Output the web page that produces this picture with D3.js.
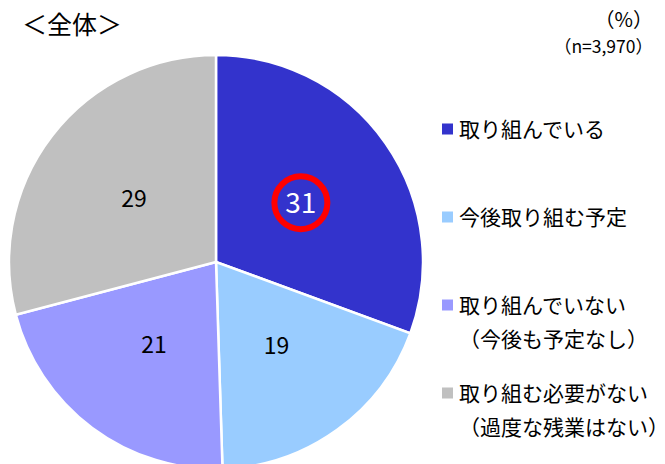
<!DOCTYPE html>
<html>
<head>
<meta charset="utf-8">
<script src="https://cdn.jsdelivr.net/npm/d3@7"></script>
<style>
  body { margin: 0; background: #fff; }
  svg { display: block; font-family: "Noto Sans CJK JP", sans-serif; }
</style>
</head>
<body>
<svg></svg>
<script>
// categories, values (%) and legend lines
const categories = ["取り組んでいる", "今後取り組む予定", "取り組んでいない", "取り組む必要がない"];
const values = [30.6, 18.9, 21.4, 29.1];
const legendLines = [
  ["取り組んでいる"],
  ["今後取り組む予定"],
  ["取り組んでいない", "（今後も予定なし）"],
  ["取り組む必要がない", "（過度な残業はない）"],
];
const colours = ["#3333cc", "#99ccff", "#9999ff", "#c0c0c0"];

const svg = d3.select("svg")
    .attr("width", 665)
    .attr("height", 464);

// title + notes
svg.append("text")
    .attr("x", 22).attr("y", 34)
    .attr("font-size", 25)
    .text("＜全体＞");

svg.append("text")
    .attr("x", 653).attr("y", 27)
    .attr("text-anchor", "end")
    .attr("font-size", 20)
    .text("（%）");

svg.append("text")
    .attr("x", 653).attr("y", 53)
    .attr("text-anchor", "end")
    .attr("font-size", 17.5)
    .text("（n=3,970）");

// pie
const radius = 207;
const pieGroup = svg.append("g")
    .attr("transform", "translate(216,262)");

const pieGenerator = d3.pie().sort(null);
const arcData = pieGenerator(values);

const arcGenerator = d3.arc()
    .innerRadius(0)
    .outerRadius(radius);

const labelArc = d3.arc()
    .innerRadius(radius * 0.5)
    .outerRadius(radius * 0.5);

pieGroup.selectAll("path")
  .data(arcData)
  .enter()
  .append("path")
    .attr("d", arcGenerator)
    .style("fill", (d, i) => colours[i])
    .style("stroke", "#fff")
    .style("stroke-width", 2.5);

// highlight ring on the first slice
const first = labelArc.centroid(arcData[0]);
pieGroup.append("circle")
    .attr("cx", first[0])
    .attr("cy", first[1])
    .attr("r", 26.5)
    .style("fill", "none")
    .style("stroke", "#ff0000")
    .style("stroke-width", 6);

pieGroup.selectAll("text.val")
  .data(arcData)
  .enter()
  .append("text")
    .attr("class", "val")
    .attr("transform", d => "translate(" + labelArc.centroid(d) + ")")
    .attr("text-anchor", "middle")
    .attr("dy", "0.36em")
    .attr("font-size", (d, i) => i === 0 ? 28 : 23)
    .style("fill", (d, i) => i === 0 ? "#fff" : "#000")
    .text(d => Math.round(d.data));

// legend
const legendY = [129, 217, 305, 393];
const legend = svg.selectAll("g.legend")
  .data(categories)
  .enter()
  .append("g")
    .attr("class", "legend")
    .attr("transform", (d, i) => "translate(442," + legendY[i] + ")");

legend.append("rect")
    .attr("x", 0).attr("y", -5.5)
    .attr("width", 11).attr("height", 11)
    .style("fill", (d, i) => colours[i]);

legend.each(function (d, i) {
  d3.select(this).selectAll("text")
    .data(legendLines[i])
    .enter()
    .append("text")
      .attr("x", 17)
      .attr("y", (t, j) => j * 34)
      .attr("dy", "0.36em")
      .attr("font-size", 21)
      .text(t => t);
});
</script>
</body>
</html>
